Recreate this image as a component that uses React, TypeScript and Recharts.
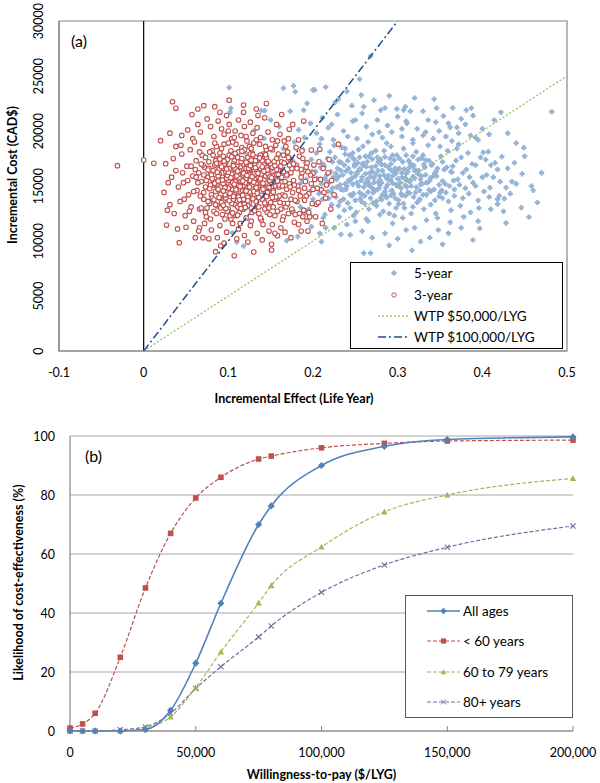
import React from 'react';
import { ScatterChart, Scatter, XAxis, YAxis, ReferenceLine, ReferenceArea, LineChart, Line, CartesianGrid, Label } from 'recharts';

const FONT = 'Lato, "Open Sans", sans-serif';

// ---------- Panel (a) data ----------
const effectTicks = [-0.1, 0, 0.1, 0.2, 0.3, 0.4, 0.5];
const costTicks = [0, 5000, 10000, 15000, 20000, 25000, 30000];

const fiveYear: [number, number][] = [
  [0.482,21750],[0.449,18480],[0.455,12180],[0.446,13030],[0.428,11630],[0.435,15390],[0.428,14850],[0.421,15390],[0.418,13360],[0.418,13790],
  [0.426,13850],[0.409,14850],[0.397,11150],[0.389,10090],[0.353,9700],[0.317,9150],[0.327,9940],[0.268,8900],[0.26,8900],[0.255,24720],
  [0.257,23270],[0.343,22900],[0.268,26800],[0.215,24000],[0.202,23730],[0.101,23940],[0.165,23900],[0.177,24100],[0.179,23570],[0.102,21700],
  [0.346,22080],[0.381,21900],[0.387,22080],[0.389,21390],[0.422,21700],[0.414,21000],[0.401,18060],[0.407,18120],[0.423,17660],[0.354,21360],
  [0.37,20330],[0.362,20330],[0.285,22090],[0.299,22000],[0.307,21900],[0.309,22200],[0.315,21800],[0.105,10750],[0.118,9540],[0.11,9900],
  [0.169,10030],[0.208,10700],[0.21,9940],[0.244,10550],[0.103,22060],[0.139,21850],[0.143,21850],[0.2,23730],[0.193,22510],[0.189,21900],
  [0.183,20100],[0.19,19400],[0.197,20700],[0.204,19800],[0.211,21200],[0.218,20300],[0.224,19200],[0.229,21500],[0.236,20000],[0.241,19500],
  [0.247,20900],[0.252,19300],[0.258,21600],[0.263,20400],[0.27,19700],[0.276,21000],[0.282,19400],[0.288,20500],[0.293,19900],[0.3,21300],
  [0.305,19500],[0.311,20700],[0.318,19200],[0.323,20200],[0.33,19600],[0.336,21000],[0.342,19300],[0.349,20000],[0.357,19500],[0.364,19100],
  [0.372,19800],[0.38,20600],[0.392,19400],[0.4,20200],[0.13,20000],[0.15,21000],[0.16,20400],[0.173,21800],[0.226,22600],[0.246,22300],
  [0.272,22800],[0.29,23200],[0.32,23000],[0.24,23600],
  [0.181,16800],[0.185,14200],[0.188,18300],[0.192,15600],[0.195,12900],[0.198,17400],[0.201,14800],[0.203,16300],[0.206,13500],[0.208,18800],
  [0.21,15200],[0.212,17000],[0.214,12400],[0.216,16000],[0.218,14500],[0.22,18100],[0.222,13300],[0.224,15800],[0.226,17600],[0.227,14000],
  [0.229,16600],[0.231,12200],[0.232,15100],[0.234,18500],[0.236,13800],[0.237,16900],[0.239,14700],[0.241,17300],[0.242,15500],[0.244,13000],
  [0.245,16200],[0.247,18000],[0.248,14300],[0.25,15900],[0.251,12600],[0.253,17100],[0.254,15000],[0.256,16500],[0.257,13600],[0.259,18600],
  [0.26,14900],[0.262,16100],[0.263,12000],[0.265,15400],[0.266,17700],[0.268,13900],[0.269,16700],[0.271,14400],[0.272,15700],[0.274,18200],
  [0.275,13200],[0.277,16400],[0.278,14800],[0.28,17400],[0.281,15300],[0.283,12700],[0.284,16000],[0.286,14100],[0.287,18900],[0.289,15600],
  [0.29,13400],[0.292,17000],[0.293,14600],[0.295,16300],[0.296,12300],[0.298,15100],[0.299,17800],[0.301,13700],[0.302,16600],[0.304,14300],
  [0.305,15800],[0.307,18400],[0.308,13000],[0.31,16100],[0.311,14900],[0.313,17300],[0.314,15400],[0.316,12500],[0.317,16800],[0.319,14000],
  [0.32,15700],[0.322,18100],[0.323,13500],[0.325,16400],[0.326,14600],[0.328,17500],[0.329,15200],[0.331,12900],[0.333,16000],[0.334,14200],
  [0.336,18700],[0.338,15500],[0.339,13300],[0.341,17000],[0.343,14700],[0.345,16300],[0.347,12100],[0.349,15100],[0.351,17700],[0.353,13900],
  [0.355,16500],[0.357,14400],[0.359,18200],[0.361,15000],[0.363,12800],[0.365,16800],[0.367,14100],[0.369,17300],[0.371,15600],[0.374,13200],
  [0.377,16200],[0.38,14800],[0.383,18000],[0.386,12600],[0.389,15300],[0.392,16900],[0.395,13700],[0.398,17600],[0.402,14500],[0.405,16000],
  [0.41,12900],[0.415,17100],[0.42,14100],[0.43,16600],[0.44,15200],[0.45,17700],[0.46,14600],[0.47,16200],
  [0.205,15700],[0.213,16800],[0.219,15300],[0.223,17200],[0.228,14900],[0.233,16400],[0.238,15200],[0.243,17800],[0.246,14100],[0.249,16800],
  [0.252,15300],[0.255,17600],[0.258,15800],[0.261,13400],[0.264,17200],[0.267,15100],[0.27,16300],[0.273,14600],[0.276,17600],[0.279,15900],
  [0.282,14200],[0.285,16900],[0.288,15100],[0.291,17500],[0.294,15900],[0.297,13900],[0.3,16500],[0.303,15300],[0.306,17200],[0.309,14100],
  [0.312,16300],[0.315,15500],[0.318,17700],[0.321,14400],[0.324,16100],[0.327,15600],[0.33,17800],[0.335,15300],[0.34,16900],[0.346,15900],
  [0.352,14600],[0.358,16700],[0.366,15500],[0.375,17600],[0.385,15800],[0.232,13600],[0.248,12300],[0.265,11800],[0.279,12400],[0.294,11600],
  [0.306,12100],[0.32,11200],[0.334,11900],[0.348,11000],[0.362,11700],[0.378,12200],[0.395,11800],[0.285,10700],[0.3,10200],[0.258,10900],
  [0.24,11500],[0.225,11200],[0.212,12100],[0.198,11300],[0.19,12500],[0.185,13100],[0.2,13800],[0.176,17300],[0.17,15900],[0.178,19000],
  [0.165,18400],[0.158,17600],[0.15,16400],[0.142,19300],[0.135,17200],[0.12,18000],[0.126,14000],[0.182,10400],[0.395,19200],[0.408,19700],
  [0.44,18900],[0.43,19800],[0.41,16900],[0.375,21100],[0.365,22100],[0.33,21800],[0.345,20800],[0.31,20900],[0.28,21900],[0.26,22200],
  [0.23,22900],
  [0.186,15300],[0.191,17100],[0.196,14500],[0.199,16300],[0.204,18000],[0.207,14300],[0.209,16700],[0.211,13800],[0.214,15700],[0.217,17500],
  [0.219,13900],[0.221,16300],[0.223,14800],[0.225,18700],[0.228,15600],[0.23,13200],[0.231,17200],[0.233,14700],[0.235,16000],[0.237,12800],
  [0.238,17900],[0.24,15000],[0.242,16600],[0.244,14200],[0.246,15700],[0.249,17400],[0.25,13700],[0.252,16100],[0.254,18300],[0.255,14400],
  [0.257,15500],[0.259,16900],[0.261,14100],[0.262,17700],[0.264,15600],[0.266,12900],[0.267,16200],[0.269,18000],[0.27,14800],[0.272,15300],
  [0.274,16800],[0.275,13600],[0.277,17200],[0.279,15100],[0.28,13900],[0.282,16400],[0.284,18200],[0.285,14500],[0.287,15700],[0.289,16700],
  [0.29,12500],[0.292,15500],[0.294,17800],[0.295,14300],[0.297,16600],[0.298,13000],[0.3,15000],[0.302,17500],[0.304,14800],[0.305,16200],
  [0.307,13400],[0.309,15700],[0.31,17800],[0.312,14400],[0.314,16700],[0.316,15000],[0.318,13100],[0.32,16400],[0.322,14900],[0.324,17400],
  [0.326,13800],[0.328,15900],[0.33,14200],[0.332,16700],[0.334,15300],[0.337,17300],[0.339,14500],[0.342,15900],[0.344,13700],[0.347,16600],
  [0.35,14400],[0.353,17200],[0.356,15200],[0.36,13600],[0.363,16300],[0.367,14700],[0.37,18400],[0.373,15100],[0.377,13900],[0.381,16500],
  [0.384,14300],[0.388,17000],[0.392,15000],[0.396,13000],[0.4,15800],[0.404,17400],[0.408,14000],[0.413,15800],[0.418,16500],[0.425,12700],
  [0.433,14300],[0.438,17100],[0.447,16100],[0.458,15000],[0.465,13500],[0.21,19300],[0.222,20600],[0.238,18400],[0.25,21000],[0.265,19000],
  [0.278,19900],[0.292,18600],[0.305,20200],[0.318,18900],[0.333,19900],[0.35,18600],[0.36,20700],[0.372,18800],[0.386,19600],[0.345,12500],
  [0.36,10700],[0.375,11200],[0.31,11000],[0.27,10300],[0.25,11800],[0.233,10600],[0.215,11200],[0.197,12300],[0.29,9600],[0.338,10300],
  [0.262,15250],[0.298,16150],[0.236,14650],[0.315,17050],[0.281,13750],[0.249,16950],[0.327,15150],[0.27,17450],[0.305,14150],[0.243,15450],
  [0.289,15950],[0.256,13850],[0.321,16450],[0.274,16050],[0.233,17150],[0.31,15550],[0.265,14450],[0.296,17350],[0.252,16250],[0.337,14650],
  [0.279,15550],[0.241,13450],[0.318,15850],[0.286,14850],[0.227,16150],[0.301,13350],[0.268,15850],[0.344,16150],[0.259,17050],[0.292,14150],
  [0.222,14450],[0.333,17350],[0.276,14650],[0.308,16550],[0.247,15150],[0.285,17650],[0.353,15450],[0.263,16750],[0.325,13650],[0.239,16350],
  [0.3,15650],[0.271,13450],[0.314,14350],[0.255,16550],[0.292,16450],[0.216,15450],[0.339,15750],[0.281,16950],[0.309,15050],[0.247,17550],
  [0.364,16250],[0.287,13950],[0.23,15850],[0.319,16850],[0.266,15050],[0.349,14050],[0.294,15250],[0.258,14250],[0.331,16950],[0.277,15350],
];

const threeYear: [number, number][] = [
  [-0.031,16850],[0.0,17360],[0.012,17060],[0.026,17030],[0.024,14420],[0.034,22660],[0.038,22060],[0.071,22300],[0.084,22210],[0.118,22360],
  [0.133,22000],[0.02,19120],[0.189,20900],[0.208,18330],[0.23,18800],[0.172,20150],[0.157,20600],[0.198,18270],[0.027,11450],[0.042,9850],
  [0.05,11250],[0.061,10300],[0.07,10300],[0.091,9570],[0.085,9030],[0.107,8660],[0.13,9000],[0.151,9180],[0.151,9700],[0.158,10480],
  [0.186,10900],[0.194,10900],[0.204,13330],[0.21,14640],[0.2,16150],[0.221,12900],[0.188,12200],
  [0.045,19600],[0.052,20100],[0.058,19300],[0.064,20600],[0.067,19900],[0.075,21100],[0.079,20400],[0.083,19500],[0.088,20900],[0.092,20200],
  [0.095,19700],[0.098,21400],[0.101,20600],[0.104,19300],[0.108,20000],[0.112,21000],[0.115,19600],[0.119,20400],[0.122,19100],[0.126,20800],
  [0.129,19800],[0.134,20300],[0.138,19400],[0.143,21200],[0.147,19900],[0.152,19200],[0.161,19700],[0.166,19100],[0.038,18600],[0.031,19800],
  [0.057,21500],[0.07,18800],[0.086,18600],[0.109,18800],[0.13,18900],
  [0.028,12800],[0.031,13300],[0.033,15800],[0.036,12500],[0.038,16400],[0.041,14900],[0.043,13600],[0.045,17900],[0.047,15300],[0.049,12300],
  [0.051,16800],[0.053,14200],[0.055,18300],[0.056,13100],[0.058,15900],[0.059,11800],[0.062,17300],[0.035,17500],[0.029,15300],[0.04,11100],
  [0.063,14600],[0.065,16200],[0.066,12900],[0.068,15400],[0.069,17800],[0.071,13800],[0.072,16700],[0.073,14900],[0.074,12200],[0.076,15800],
  [0.077,17200],[0.078,13400],[0.079,16300],[0.08,14200],[0.081,18200],[0.082,15100],[0.083,12700],[0.084,16900],[0.085,14500],[0.086,15700],
  [0.087,13200],[0.088,17500],[0.089,16100],[0.09,14000],[0.091,15300],[0.092,18400],[0.093,12400],[0.094,16600],[0.095,13700],[0.096,15000],
  [0.097,17100],[0.098,14400],[0.099,16000],[0.1,12900],[0.1,15500],[0.101,17800],[0.102,13900],[0.103,16400],[0.104,14700],[0.105,11600],
  [0.106,15900],[0.107,17300],[0.108,13300],[0.109,16200],[0.11,14500],[0.111,15200],[0.112,18100],[0.113,12600],[0.114,16700],[0.115,14100],
  [0.116,15600],[0.117,13600],[0.118,17000],[0.119,15000],[0.12,16300],[0.121,12100],[0.122,14800],[0.123,17600],[0.124,15400],[0.125,13500],
  [0.126,16100],[0.127,14300],[0.128,18000],[0.129,15800],[0.13,12800],[0.131,16900],[0.132,14600],[0.133,15200],[0.134,13200],[0.135,17400],
  [0.136,15900],[0.137,14000],[0.138,16500],[0.139,11900],[0.14,15100],[0.141,17900],[0.142,13700],[0.143,16200],[0.144,14800],[0.145,15600],
  [0.146,12600],[0.147,17100],[0.148,14300],[0.149,16800],[0.15,13500],[0.151,15300],[0.152,18300],[0.153,14600],[0.154,16000],[0.155,12300],
  [0.156,15000],[0.157,17500],[0.158,13900],[0.159,16400],[0.16,14900],[0.161,15700],[0.162,12900],[0.163,17200],[0.164,14200],[0.165,16300],
  [0.166,13400],[0.167,15400],[0.168,18600],[0.169,14700],[0.17,16100],[0.171,12500],[0.172,15200],[0.173,17400],[0.174,13800],[0.175,16600],
  [0.176,14400],[0.177,15500],[0.178,11700],[0.18,16900],[0.181,13600],[0.182,15000],[0.184,17700],[0.185,14100],[0.187,16200],[0.189,12800],
  [0.191,15400],[0.193,17100],[0.195,14300],[0.197,16000],[0.199,13400],[0.202,15600],[0.205,14800],[0.212,16600],[0.216,15100],
  [0.082,16400],[0.087,14800],[0.091,16900],[0.094,15200],[0.097,13900],[0.099,17400],[0.102,15000],[0.104,16100],[0.106,13800],[0.108,15400],
  [0.11,16800],[0.111,13100],[0.113,15700],[0.115,17200],[0.117,14600],[0.118,12900],[0.12,15300],[0.121,16600],[0.123,14000],[0.124,15900],
  [0.126,17900],[0.127,13000],[0.128,15100],[0.13,16500],[0.131,14200],[0.133,17600],[0.134,15700],[0.136,13100],[0.137,16200],[0.139,14500],
  [0.14,17300],[0.142,15600],[0.144,13300],[0.145,16700],[0.147,15000],[0.149,12400],[0.15,17000],[0.153,15900],[0.155,13800],[0.157,16500],
  [0.16,14100],[0.163,15800],[0.165,17800],[0.168,13100],[0.172,16900],[0.176,12700],[0.079,15100],[0.076,13600],[0.073,17600],[0.071,16000],
  [0.068,13000],[0.066,18100],[0.064,15300],[0.061,16500],[0.084,18900],[0.095,18800],[0.105,19000],[0.116,18500],[0.125,18600],[0.137,18800],
  [0.145,18300],[0.156,18700],[0.17,18100],[0.18,18500],[0.09,11400],[0.098,10800],[0.103,12000],[0.112,11100],[0.119,10500],[0.126,11400],
  [0.134,10700],[0.141,11500],[0.148,10900],[0.162,11200],[0.174,10300],[0.183,11500],[0.08,11000],[0.072,11600],[0.066,11200],[0.192,14100],
  [0.196,12200],[0.186,16500],[0.19,13700],[0.194,16300],[0.2,14700],[0.203,12200],[0.207,17200],[0.211,11600],[0.215,13900],[0.219,17400],
  [0.225,14200],[0.183,19200],[0.176,20600],[0.163,21500],[0.145,22500],[0.101,22800],
  [0.062,15800],[0.067,14100],[0.07,16900],[0.074,15500],[0.075,13000],[0.078,18100],[0.08,16000],[0.081,13900],[0.083,15400],[0.085,17300],
  [0.086,12500],[0.088,14700],[0.089,16500],[0.09,18000],[0.092,13500],[0.093,15800],[0.095,17000],[0.096,14200],[0.097,16300],[0.099,12700],
  [0.1,14800],[0.101,16600],[0.103,18200],[0.104,13400],[0.105,15300],[0.106,17000],[0.107,14200],[0.108,16600],[0.109,12300],[0.11,15900],
  [0.111,17600],[0.112,14000],[0.113,16400],[0.114,13300],[0.115,15400],[0.116,17500],[0.117,16000],[0.118,13800],[0.119,18300],[0.12,14600],
  [0.121,15700],[0.122,17000],[0.123,13200],[0.124,16600],[0.125,14900],[0.126,15500],[0.127,18400],[0.128,12600],[0.129,16700],[0.13,14500],
  [0.131,15600],[0.132,17300],[0.133,13600],[0.134,16300],[0.135,14900],[0.136,12500],[0.137,15500],[0.138,17800],[0.139,16100],[0.14,13800],
  [0.141,14700],[0.142,16900],[0.143,12900],[0.144,15900],[0.145,17600],[0.146,14400],[0.147,16100],[0.148,13000],[0.149,15500],[0.15,18400],
  [0.151,14200],[0.152,16700],[0.153,13100],[0.154,17200],[0.155,15400],[0.156,14000],[0.157,16000],[0.158,12700],[0.159,17900],[0.16,15100],
  [0.161,13500],[0.162,16800],[0.164,15000],[0.165,12200],[0.166,17100],[0.167,14100],[0.169,16000],[0.17,13400],[0.171,17600],[0.173,14900],
  [0.174,16200],[0.175,12900],[0.177,17000],[0.178,15100],[0.179,13700],[0.181,16600],[0.183,14600],[0.184,12500],[0.186,15800],[0.188,17500],
  [0.19,14800],[0.192,16700],[0.195,12600],[0.198,15200],[0.201,16900],[0.206,13500],[0.209,15600],[0.213,14400],[0.218,16200],[0.222,15500],
  [0.068,17000],[0.071,14400],[0.073,12600],[0.077,16600],[0.079,12000],[0.082,17800],[0.085,13300],[0.088,15900],[0.091,13000],[0.094,17700],
  [0.096,12000],[0.098,15700],[0.1,18900],[0.102,12300],[0.107,19400],[0.114,11600],[0.121,19500],[0.127,11800],[0.133,19200],[0.138,12100],
  [0.144,18600],[0.152,11500],[0.158,19100],[0.164,11900],[0.171,19300],[0.179,12400],[0.187,18200],[0.193,11800],[0.059,14500],[0.056,16800],
  [0.054,12700],[0.052,15500],[0.048,13800],[0.046,16200],[0.044,18700],[0.06,19000],[0.065,10900],[0.077,10200],[0.087,10300],[0.095,9800],
  [0.11,10200],[0.123,9900],[0.14,10100],[0.155,10700],[0.167,10800],[0.1,20000],[0.118,21700],[0.135,21400],[0.09,21700],[0.064,22000],
  [0.112,15050],[0.087,16250],[0.134,14350],[0.101,13650],[0.146,16450],[0.093,15550],[0.121,17150],[0.078,14750],[0.129,13850],[0.106,16850],
  [0.141,15250],[0.117,14150],[0.095,17250],[0.152,13950],[0.124,16050],[0.083,13750],[0.137,17550],[0.109,14650],[0.099,15950],[0.158,15450],
  [0.115,12950],[0.128,15850],[0.091,14250],[0.143,13450],[0.104,17650],[0.132,16650],[0.119,13350],[0.086,17050],[0.148,14850],[0.097,12950],
  [0.125,14450],[0.111,16350],[0.138,15650],[0.081,15650],[0.155,16850],[0.102,14350],[0.131,12750],[0.116,18150],[0.092,16750],[0.144,17850],
  [0.107,15150],[0.123,13650],[0.089,13950],[0.135,16150],[0.114,14950],[0.149,15850],[0.096,14850],[0.127,17350],[0.105,12550],[0.139,14150],
  [0.118,16150],[0.084,15250],[0.153,14450],[0.1,16250],[0.13,15350],[0.113,13750],[0.142,16350],[0.094,13250],[0.121,14550],[0.108,17950],
  [0.136,13950],[0.088,15450],[0.147,17250],[0.103,15750],[0.126,16850],[0.117,15450],[0.09,17450],[0.133,14850],[0.111,12350],[0.159,16050],
  [0.098,16550],[0.122,15950],[0.145,14050],[0.076,16450],[0.129,17850],[0.106,14050],[0.14,16750],[0.12,13050],[0.094,14550],[0.151,15750],
];

const wtp50Points: [number, number][] = [[0, 0], [0.5, 25000]];
const wtp100Points: [number, number][] = [[0, 0], [0.3, 30000]];

// ---------- Panel (b) data ----------
const wtpValues = [0, 5000, 10000, 20000, 30000, 40000, 50000, 60000, 75000, 80000, 100000, 125000, 150000, 200000];
const allAges = [0, 0, 0, 0, 0.5, 7, 23, 43.3, 70, 76.3, 90, 96.5, 98.8, 99.7];
const under60 = [1, 2.4, 6, 25, 48.5, 67, 79, 86, 92.2, 93.2, 96, 97.5, 98.3, 98.6];
const age60to79 = [0, 0, 0, 0, 1, 4.8, 14.7, 26.8, 43.4, 49.3, 62.4, 74.3, 80, 85.6];
const age80plus = [0, 0, 0, 0.4, 1.4, 6, 14.4, 21.8, 31.9, 35.6, 47, 56.3, 62.3, 69.5];
const likelihoodTicks = [0, 20, 40, 60, 80, 100];
const wtpTicks = [0, 50000, 100000, 150000, 200000];

const toXY = (arr: [number, number][]) => arr.map(([x, y]) => ({ x, y }));
const fiveData = toXY(fiveYear);
const threeData = toXY(threeYear);
const wtp50Data = toXY(wtp50Points);
const wtp100Data = toXY(wtp100Points);

const curveData = wtpValues.map((w, i) => ({
  w,
  all: allAges[i],
  u60: under60[i],
  a6079: age60to79[i],
  a80: age80plus[i],
}));

const C_BLUE_PT = '#95B3D7';
const C_RED = '#C0504D';
const C_GREEN = '#9BBB59';
const C_DARKBLUE = '#1F4E8C';
const C_BLUE = '#4F81BD';
const C_PURPLE = '#8064A2';
const AXIS_GRAY = '#868686';

const plusPath = (cx: number, cy: number) =>
  `M${cx - 1.2},${cy - 2.6}h2.4v1.4h1.4v2.4h-1.4v1.4h-2.4v-1.4h-1.4v-2.4h1.4z`;

const BluePoint = (p: any) => <path d={plusPath(p.cx, p.cy)} fill={C_BLUE_PT} />;
const RedPoint = (p: any) => <circle cx={p.cx} cy={p.cy} r={2.3} fill="#fff" stroke={C_RED} strokeWidth={1.1} />;
const NoPoint = () => <g />;

const XTickA = (p: any) => (
  <text x={p.x} y={p.y + 21} textAnchor="middle" dominantBaseline="central" fontFamily={FONT} fontSize={12.5} fill="#000">
    {String(p.payload.value)}
  </text>
);
const YTickA = (p: any) => {
  const cx = p.x - 21;
  return (
    <text x={cx} y={p.y} transform={`rotate(-90 ${cx} ${p.y})`} textAnchor="middle" dominantBaseline="central" fontFamily={FONT} fontSize={12.5} fill="#000">
      {String(p.payload.value)}
    </text>
  );
};

const XTickB = (p: any) => (
  <text x={p.x} y={p.y + 26} textAnchor="middle" dominantBaseline="central" fontFamily={FONT} fontSize={12.5} fill="#000">
    {Number(p.payload.value).toLocaleString('en-US')}
  </text>
);
const YTickB = (p: any) => (
  <text x={p.x - 15} y={p.y} textAnchor="end" dominantBaseline="central" fontFamily={FONT} fontSize={12.5} fill="#000">
    {String(p.payload.value)}
  </text>
);

const diamond = (cx: number, cy: number, r: number) => `M${cx},${cy - r}L${cx + r},${cy}L${cx},${cy + r}L${cx - r},${cy}Z`;
const squareP = (cx: number, cy: number, r: number) => `M${cx - r},${cy - r}h${2 * r}v${2 * r}h${-2 * r}Z`;
const triP = (cx: number, cy: number, r: number) => `M${cx},${cy - r}L${cx + r},${cy + r * 0.8}L${cx - r},${cy + r * 0.8}Z`;
const crossP = (cx: number, cy: number, r: number) => `M${cx - r},${cy - r}L${cx + r},${cy + r}M${cx - r},${cy + r}L${cx + r},${cy - r}`;

const DotAll = (p: any) => <path key={`a${p.index}`} d={diamond(p.cx, p.cy, 3.6)} fill={C_BLUE} />;
const DotU60 = (p: any) => <path key={`b${p.index}`} d={squareP(p.cx, p.cy, 2.8)} fill={C_RED} />;
const Dot6079 = (p: any) => <path key={`c${p.index}`} d={triP(p.cx, p.cy, 3.2)} fill={C_GREEN} />;
const Dot80 = (p: any) => <path key={`d${p.index}`} d={crossP(p.cx, p.cy, 2.6)} stroke={C_PURPLE} strokeWidth={1.1} fill="none" />;

const LegendA = () => (
  <svg width={213} height={87} style={{ position: 'absolute', left: 350, top: 262 }}>
    <rect x={0.5} y={0.5} width={212} height={86} fill="#fff" stroke="#000" strokeWidth={1} />
    <path d={plusPath(44, 11)} fill={C_BLUE_PT} />
    <text x={64} y={11} dominantBaseline="central" fontFamily={FONT} fontSize={13.5}>5-year</text>
    <circle cx={44} cy={33} r={2.2} fill="#fff" stroke={C_RED} />
    <text x={64} y={33} dominantBaseline="central" fontFamily={FONT} fontSize={13.5}>3-year</text>
    <line x1={28} x2={60} y1={54} y2={54} stroke={C_GREEN} strokeWidth={1.25} strokeDasharray="2 2" />
    <text x={64} y={54} dominantBaseline="central" fontFamily={FONT} fontSize={13.5}>WTP $50,000/LYG</text>
    <line x1={28} x2={60} y1={75} y2={75} stroke={C_DARKBLUE} strokeWidth={1.5} strokeDasharray="8 3 2 3" />
    <text x={64} y={75} dominantBaseline="central" fontFamily={FONT} fontSize={13.5}>WTP $100,000/LYG</text>
  </svg>
);

const LegendB = () => (
  <svg width={168} height={123} style={{ position: 'absolute', left: 405, top: 195 }}>
    <rect x={0.5} y={0.5} width={167} height={122} fill="#fff" stroke="#595959" strokeWidth={1} />
    <line x1={22} x2={55} y1={16} y2={16} stroke={C_BLUE} strokeWidth={1.5} />
    <path d={diamond(38.5, 16, 3.2)} fill={C_BLUE} />
    <text x={58} y={16} dominantBaseline="central" fontFamily={FONT} fontSize={13.5}>All ages</text>
    <line x1={22} x2={55} y1={46} y2={46} stroke={C_RED} strokeWidth={1.2} strokeDasharray="4 2" />
    <path d={squareP(38.5, 46, 2.6)} fill={C_RED} />
    <text x={58} y={46} dominantBaseline="central" fontFamily={FONT} fontSize={13.5}>&lt; 60 years</text>
    <line x1={22} x2={55} y1={77} y2={77} stroke={C_GREEN} strokeWidth={1.2} strokeDasharray="4 2" />
    <path d={triP(38.5, 77, 2.8)} fill={C_GREEN} />
    <text x={58} y={77} dominantBaseline="central" fontFamily={FONT} fontSize={13.5}>60 to 79 years</text>
    <line x1={22} x2={55} y1={107} y2={107} stroke={C_PURPLE} strokeWidth={1.2} strokeDasharray="4 2" />
    <path d={crossP(38.5, 107, 2.4)} stroke={C_PURPLE} fill="none" />
    <text x={58} y={107} dominantBaseline="central" fontFamily={FONT} fontSize={13.5}>80+ years</text>
  </svg>
);

export default function App() {
  return (
    <div style={{ position: 'absolute', left: 0, top: 0, width: 600, height: 783, background: '#fff', fontFamily: FONT }}>
      <div style={{ position: 'absolute', left: 0, top: 0 }}>
        <ScatterChart width={600} height={410} margin={{ top: 21, right: 33, bottom: 0, left: 0 }}>
          <XAxis
            type="number" dataKey="x" domain={[-0.1, 0.5]} ticks={effectTicks} interval={0}
            height={59} tickSize={0} tickMargin={0} tickLine={false}
            axisLine={{ stroke: AXIS_GRAY, strokeWidth: 1.2 }} tick={<XTickA />} allowDataOverflow
          >
            <Label
              content={(p: any) => {
                const vb = p.viewBox;
                return (
                  <text x={vb.x + vb.width / 2 - 19} y={vb.y + 47} textAnchor="middle" dominantBaseline="central" fontFamily={FONT} fontWeight="bold" fontSize={12.5}>
                    Incremental Effect (Life Year)
                  </text>
                );
              }}
            />
          </XAxis>
          <YAxis
            type="number" dataKey="y" domain={[0, 30000]} ticks={costTicks} interval={0}
            width={59} tickSize={0} tickMargin={0} tickLine={false}
            axisLine={{ stroke: AXIS_GRAY, strokeWidth: 1.2 }} tick={<YTickA />} allowDataOverflow
          >
            <Label
              content={(p: any) => {
                const vb = p.viewBox;
                const cx = vb.x + 12;
                const cy = vb.y + vb.height / 2 - 11;
                return (
                  <text x={cx} y={cy} transform={`rotate(-90 ${cx} ${cy})`} textAnchor="middle" dominantBaseline="central" fontFamily={FONT} fontWeight="bold" fontSize={12.5}>
                    Incremental Cost (CAD$)
                  </text>
                );
              }}
            />
          </YAxis>
          <ReferenceArea x1={-0.1} x2={0.5} y1={0} y2={30000} fill="none" stroke={AXIS_GRAY} strokeWidth={1.2} />
          <ReferenceLine x={0} stroke="#000" strokeWidth={1.2} />
          <Scatter data={fiveData} shape={BluePoint} isAnimationActive={false} />
          <Scatter data={threeData} shape={RedPoint} isAnimationActive={false} />
          <Scatter data={wtp50Data} shape={NoPoint} line={{ stroke: C_GREEN, strokeWidth: 1.25, strokeDasharray: '2 2' }} isAnimationActive={false} />
          <Scatter data={wtp100Data} shape={NoPoint} line={{ stroke: C_DARKBLUE, strokeWidth: 1.5, strokeDasharray: '8 3 2 3' }} isAnimationActive={false} />
        </ScatterChart>
        <div style={{ position: 'absolute', left: 71, top: 31, fontFamily: FONT, fontSize: 16, lineHeight: '20px' }}>(a)</div>
        <LegendA />
      </div>
      <div style={{ position: 'absolute', left: 0, top: 400 }}>
        <LineChart width={600} height={383} data={curveData} margin={{ top: 36, right: 27, bottom: 0, left: 0 }}>
          <CartesianGrid vertical={false} stroke="#A6A6A6" strokeWidth={1} />
          <XAxis
            type="number" dataKey="w" domain={[0, 200000]} ticks={wtpTicks} interval={0}
            height={52} tickSize={-5} tickMargin={0} tickLine={{ stroke: AXIS_GRAY }}
            axisLine={{ stroke: AXIS_GRAY, strokeWidth: 1.2 }} tick={<XTickB />}
          >
            <Label
              content={(p: any) => {
                const vb = p.viewBox;
                return (
                  <text x={vb.x + vb.width / 2} y={vb.y + 43} textAnchor="middle" dominantBaseline="central" fontFamily={FONT} fontWeight="bold" fontSize={12.5}>
                    Willingness-to-pay ($/LYG)
                  </text>
                );
              }}
            />
          </XAxis>
          <YAxis
            type="number" domain={[0, 100]} ticks={likelihoodTicks} interval={0}
            width={70} tickSize={0} tickMargin={0} tickLine={false}
            axisLine={{ stroke: AXIS_GRAY, strokeWidth: 1.2 }} tick={<YTickB />}
          >
            <Label
              content={(p: any) => {
                const vb = p.viewBox;
                const cx = vb.x + 18;
                const cy = vb.y + vb.height / 2 - 1;
                return (
                  <text x={cx} y={cy} transform={`rotate(-90 ${cx} ${cy})`} textAnchor="middle" dominantBaseline="central" fontFamily={FONT} fontWeight="bold" fontSize={12.5}>
                    Likelihood of cost-effectiveness (%)
                  </text>
                );
              }}
            />
          </YAxis>
          <Line dataKey="a80" type="monotone" stroke={C_PURPLE} strokeWidth={1.2} strokeDasharray="4 2" dot={Dot80} activeDot={false} isAnimationActive={false} />
          <Line dataKey="a6079" type="monotone" stroke={C_GREEN} strokeWidth={1.2} strokeDasharray="4 2" dot={Dot6079} activeDot={false} isAnimationActive={false} />
          <Line dataKey="u60" type="monotone" stroke={C_RED} strokeWidth={1.2} strokeDasharray="4 2" dot={DotU60} activeDot={false} isAnimationActive={false} />
          <Line dataKey="all" type="monotone" stroke={C_BLUE} strokeWidth={1.6} dot={DotAll} activeDot={false} isAnimationActive={false} />
        </LineChart>
        <div style={{ position: 'absolute', left: 85, top: 46, fontFamily: FONT, fontSize: 16, lineHeight: '20px' }}>(b)</div>
        <LegendB />
      </div>
    </div>
  );
}
